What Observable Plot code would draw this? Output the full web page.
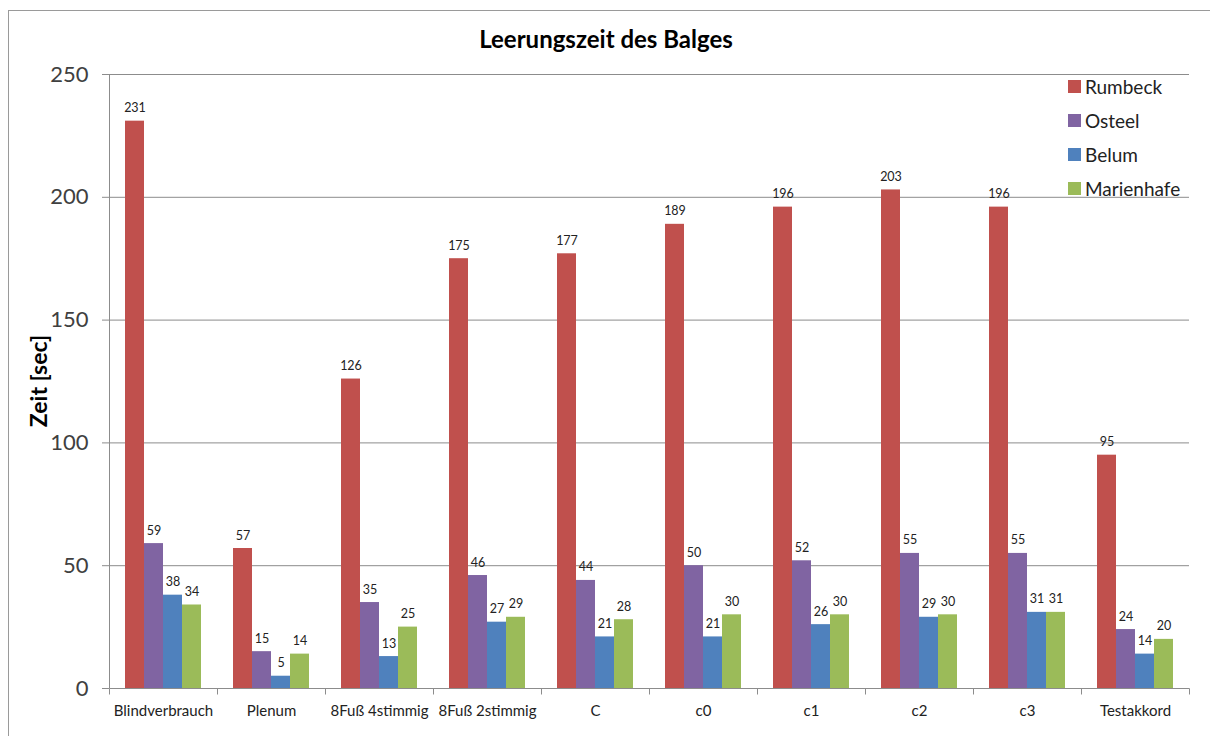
<!DOCTYPE html>
<html>
<head>
<meta charset="utf-8">
<script src="https://cdn.jsdelivr.net/npm/d3@7"></script>
<script src="https://cdn.jsdelivr.net/npm/@observablehq/plot@0.6"></script>
<style>
  html, body { margin: 0; padding: 0; background: #fff; overflow: hidden; }
  #wrap { position: relative; width: 1210px; height: 736px; overflow: hidden; font-family: Lato, "Open Sans", sans-serif; }
  #borderTop { position: absolute; left: 8px; top: 10px; width: 1202px; height: 1px; background: #9a9a9a; }
  #borderLeft { position: absolute; left: 8px; top: 10px; width: 1px; height: 726px; background: #9a9a9a; }
  #title { position: absolute; left: 6px; top: 24px; width: 1200px; text-align: center; font-weight: bold; font-size: 24px; color: #000; line-height: 30px; }
  #chart { position: absolute; left: 0; top: 60px; }
  #ylabel { position: absolute; left: 38px; top: 381px; transform: translate(-50%, -50%) rotate(-90deg); font-weight: bold; font-size: 23px; color: #000; white-space: nowrap; }
  #legend { position: absolute; left: 1068px; top: 69px; }
  .lg-row { display: flex; align-items: center; height: 34px; font-size: 19px; color: #222; }
  .lg-sw { width: 13px; height: 13px; margin-right: 4px; }
</style>
</head>
<body>
<div id="wrap">
  <div id="borderTop"></div>
  <div id="borderLeft"></div>
  <div id="title"></div>
  <div id="chart"></div>
  <div id="ylabel"></div>
  <div id="legend"></div>
</div>
<script>
const title = "Leerungszeit des Balges";
const yLabel = "Zeit [sec]";
const categories = ["Blindverbrauch", "Plenum", "8Fuß 4stimmig", "8Fuß 2stimmig", "C", "c0", "c1", "c2", "c3", "Testakkord"];
const series = ["Rumbeck", "Osteel", "Belum", "Marienhafe"];
const colors = ["#C0504D", "#8064A2", "#4F81BD", "#9BBB59"];
const rumbeck    = [231, 57, 126, 175, 177, 189, 196, 203, 196, 95];
const osteel     = [59, 15, 35, 46, 44, 50, 52, 55, 55, 24];
const belum      = [38, 5, 13, 27, 21, 21, 26, 29, 31, 14];
const marienhafe = [34, 14, 25, 29, 28, 30, 30, 30, 31, 20];
const yTicks = [0, 50, 100, 150, 200, 250];

const values = [rumbeck, osteel, belum, marienhafe];
const data = categories.flatMap((c, i) => series.map((s, j) => ({category: c, series: s, value: values[j][i]})));

document.getElementById("title").textContent = title;
document.getElementById("ylabel").textContent = yLabel;

const gridColor = "#8c8c8c";

const chart = Plot.plot({
  width: 1210,
  height: 676,
  marginTop: 14,
  marginBottom: 48,
  marginLeft: 107,
  marginRight: 20,
  style: {fontFamily: "Lato, 'Open Sans', sans-serif", background: "transparent", color: "#333"},
  fx: {domain: categories, padding: 0, label: null},
  x: {domain: series, paddingInner: 0, paddingOuter: 0.75, axis: null},
  y: {domain: [0, 250], label: null},
  color: {domain: series, range: colors},
  marks: [
    Plot.gridY(yTicks.filter(d => d > 0), {stroke: gridColor, strokeOpacity: 1}),
    Plot.barY(data, {fx: "category", x: "series", y: "value", fill: "series", inset: 0}),
    Plot.text(data, {fx: "category", x: "series", y: "value", text: d => String(d.value), lineAnchor: "bottom", dy: -9, fontSize: 12.5, fill: "#222"}),
    Plot.axisY(yTicks, {anchor: "left", tickSize: 7, tickPadding: 14, fontSize: 22, stroke: gridColor, fill: "#404040", label: null}),
    Plot.axisFx({anchor: "bottom", tickSize: 0, tickPadding: 17, fontSize: 15, fill: "#222", label: null})
  ]
});
document.getElementById("chart").appendChild(chart);

// axis lines and category boundary ticks, positioned through Plot's scales
const fx = chart.scale("fx");
const ys = chart.scale("y");
const svg = d3.select(chart);
const y0 = Math.round(ys.apply(0)) + 0.5;
const yTop = Math.round(ys.apply(250)) + 0.5;
const edges = categories.map(c => fx.apply(c)).concat([fx.apply(categories[categories.length - 1]) + fx.bandwidth]);
const g = svg.append("g").attr("stroke", gridColor).attr("fill", "none");
const xL = Math.round(edges[0]) + 0.5, xR = Math.round(edges[edges.length - 1]) + 0.5;
g.append("line").attr("x1", xL).attr("x2", xR).attr("y1", y0).attr("y2", y0);
g.append("line").attr("x1", xL).attr("x2", xL).attr("y1", yTop).attr("y2", y0);
edges.forEach(e => {
  const xe = Math.round(e) + 0.5;
  g.append("line").attr("x1", xe).attr("x2", xe).attr("y1", y0).attr("y2", y0 + 6);
});

// legend
const legend = document.getElementById("legend");
series.forEach((s, i) => {
  const row = document.createElement("div");
  row.className = "lg-row";
  const sw = document.createElement("div");
  sw.className = "lg-sw";
  sw.style.background = colors[i];
  const t = document.createElement("span");
  t.textContent = s;
  row.appendChild(sw);
  row.appendChild(t);
  legend.appendChild(row);
});
</script>
</body>
</html>
